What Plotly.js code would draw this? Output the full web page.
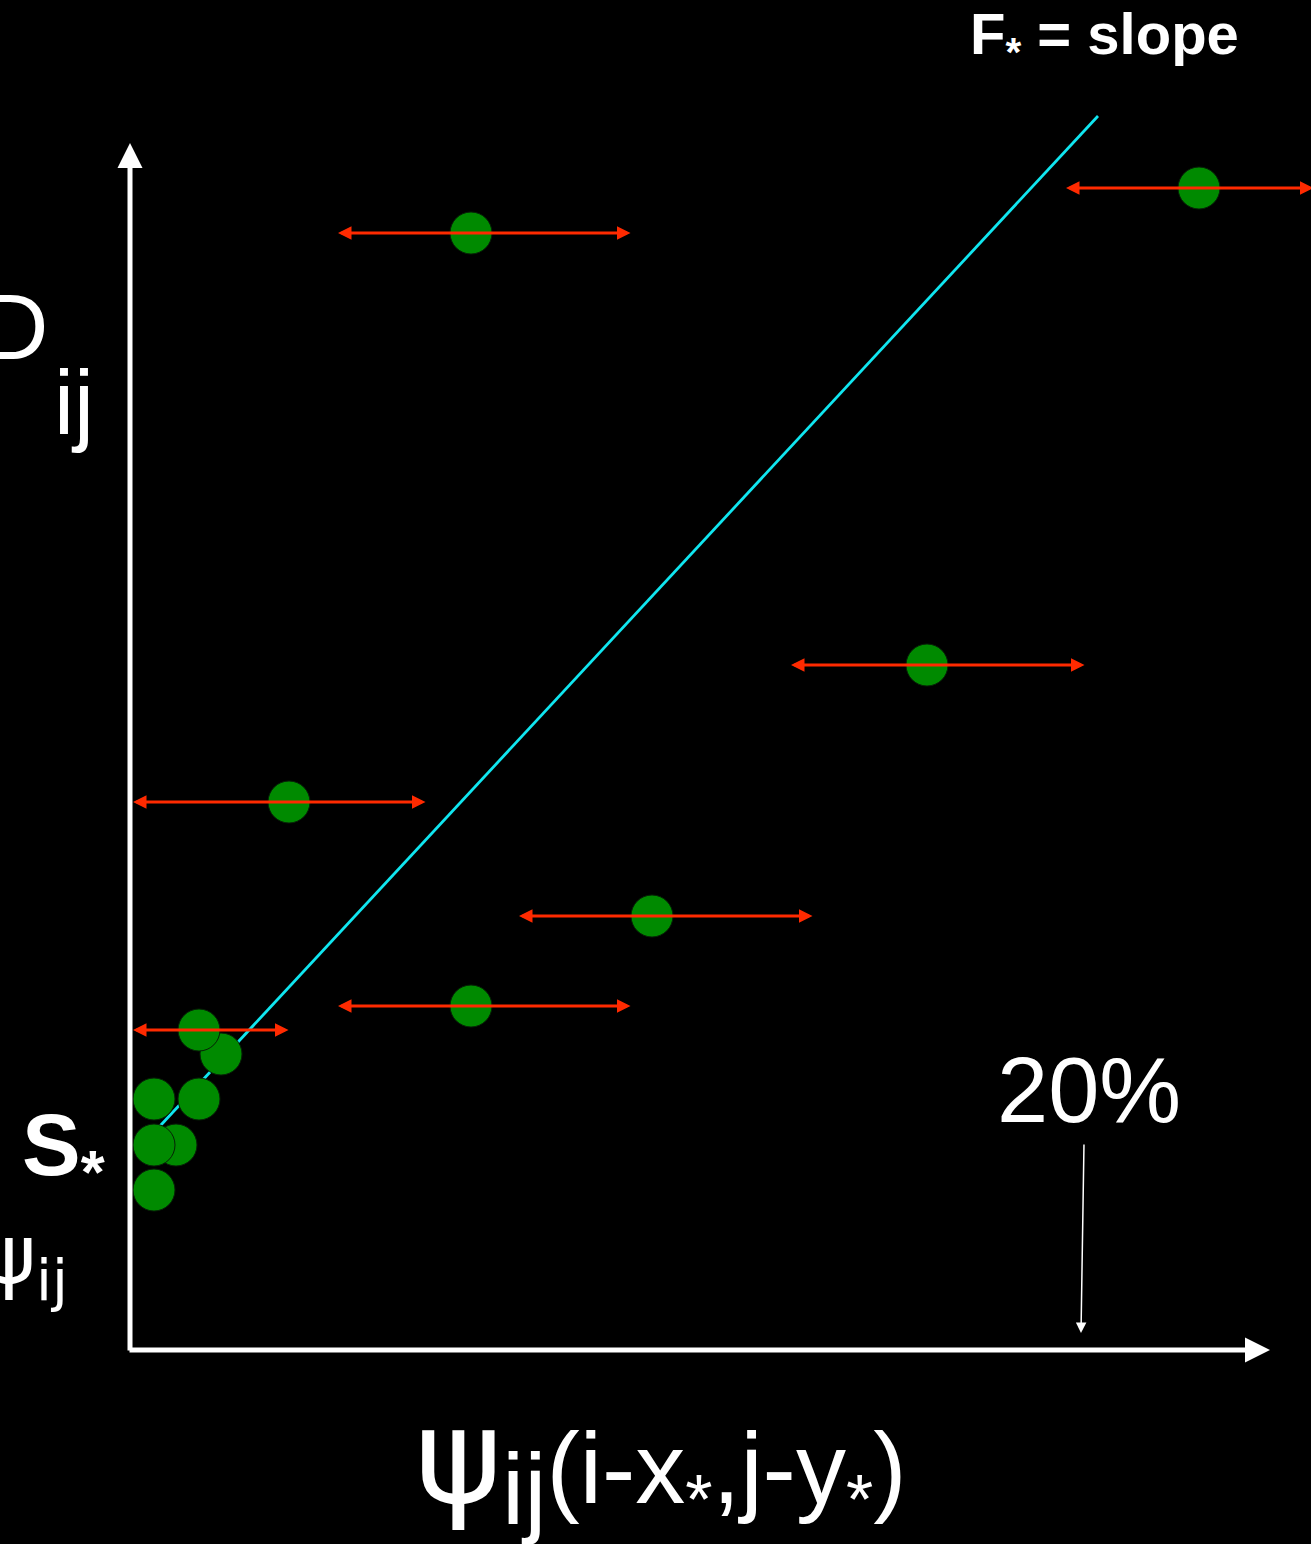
<!DOCTYPE html>
<html>
<head>
<meta charset="utf-8">
<script src="https://cdn.plot.ly/plotly-3.0.1.min.js"></script>
<style>html,body{margin:0;padding:0;background:#000;}#chart{width:1311px;height:1544px;}</style>
</head>
<body>
<div id="chart"></div>
<script>
// Data (units: arbitrary, origin at axes corner)
const pointX = [3.41, 10.69, 7.97, 1.59, 5.22, 3.41, 0.91, 0.69, 0.24, 0.69, 0.46, 0.24, 0.24];
const pointY = [11.17, 11.62, 6.85, 5.48, 4.34, 3.44, 2.96, 3.20, 2.51, 2.51, 2.05, 2.05, 1.60];
const xErrMinus = [1.33, 1.33, 1.36, 1.56, 1.33, 1.33, null, 0.66, null, null, null, null, null];
const xErrPlus  = [1.61, 1.16, 1.59, 1.38, 1.62, 1.61, null, 0.91, null, null, null, null, null];
const fitX = [0.30, 9.68];
const fitY = [2.24, 12.34];
const axisTipX = 11.40;
const axisTipY = 12.07;

const FONT = 'Liberation Sans, Arial, Helvetica, sans-serif';

const traces = [
  {x: fitX, y: fitY, mode: 'lines', line: {color: '#10e6f0', width: 2.8}, hoverinfo: 'skip'},
  {x: pointX, y: pointY, mode: 'markers',
   marker: {size: 42, color: '#008a00', line: {color: '#062006', width: 1}}, hoverinfo: 'skip'}
];

const annotations = [];
// error arrows
for (let i = 0; i < pointX.length; i++) {
  if (xErrMinus[i] === null) continue;
  annotations.push({
    x: pointX[i] - xErrMinus[i], y: pointY[i],
    ax: pointX[i] + xErrPlus[i], ay: pointY[i],
    xref: 'x', yref: 'y', axref: 'x', ayref: 'y',
    text: '', showarrow: true, arrowside: 'end+start', arrowhead: 2,
    arrowsize: 0.9, arrowwidth: 3, arrowcolor: '#ff2a00', standoff: 0, startstandoff: 0
  });
}
// axes arrows
annotations.push({x: 0, y: axisTipY, ax: 0, ay: -0.02, xref: 'x', yref: 'y', axref: 'x', ayref: 'y',
  text: '', showarrow: true, arrowhead: 2, arrowsize: 1, arrowwidth: 5, arrowcolor: '#ffffff', standoff: 0});
annotations.push({x: axisTipX, y: 0, ax: -0.02, ay: 0, xref: 'x', yref: 'y', axref: 'x', ayref: 'y',
  text: '', showarrow: true, arrowhead: 2, arrowsize: 1, arrowwidth: 5, arrowcolor: '#ffffff', standoff: 0});
// 20% pointer
annotations.push({x: 9.51, y: 0.17, ax: 9.54, ay: 2.07, xref: 'x', yref: 'y', axref: 'x', ayref: 'y',
  text: '', showarrow: true, arrowhead: 2, arrowsize: 1.4, arrowwidth: 1.5, arrowcolor: '#ffffff', standoff: 0});

function txt(text, x, y, size, xanchor, extra) {
  return Object.assign({text: text, x: x, y: y, xref: 'x', yref: 'y', showarrow: false,
    xanchor: xanchor, yanchor: 'middle', font: {family: FONT, size: size, color: '#ffffff'}}, extra || {});
}
annotations.push(txt('<b>F<sub>*</sub> = slope</b>', 8.38, 13.12, 58, 'left'));
annotations.push(txt('D', -0.80, 10.23, 92, 'right'));
annotations.push(txt('ij', -0.56, 9.47, 90, 'center'));
annotations.push(txt('<b>S<sub>*</sub></b>', -1.10, 2.0, 88, 'left'));
annotations.push(txt('ψ<sub>ij</sub>', -0.60, 0.90, 82, 'right', {font: {family: 'DejaVu Sans, ' + FONT, size: 82, color: '#ffffff'}}));
annotations.push(txt('20%', 9.59, 2.60, 92, 'center'));
annotations.push(txt('<span style="font-family:DejaVu Sans;font-size:132px">ψ</span><sub><span style="font-size:100px">ij</span></sub>(i-x<sub>*</sub>,j-y<sub>*</sub>)',
  5.30, -1.12, 100, 'center'));

const layout = {
  width: 1311, height: 1544,
  margin: {l: 0, r: 0, t: 0, b: 0, pad: 0},
  paper_bgcolor: '#000000', plot_bgcolor: '#000000',
  showlegend: false,
  xaxis: {range: [-1.30, 11.81], visible: false, fixedrange: true},
  yaxis: {range: [-1.94, 13.50], visible: false, fixedrange: true},
  annotations: annotations
};

Plotly.newPlot('chart', traces, layout, {displayModeBar: false, staticPlot: true});
</script>
</body>
</html>
